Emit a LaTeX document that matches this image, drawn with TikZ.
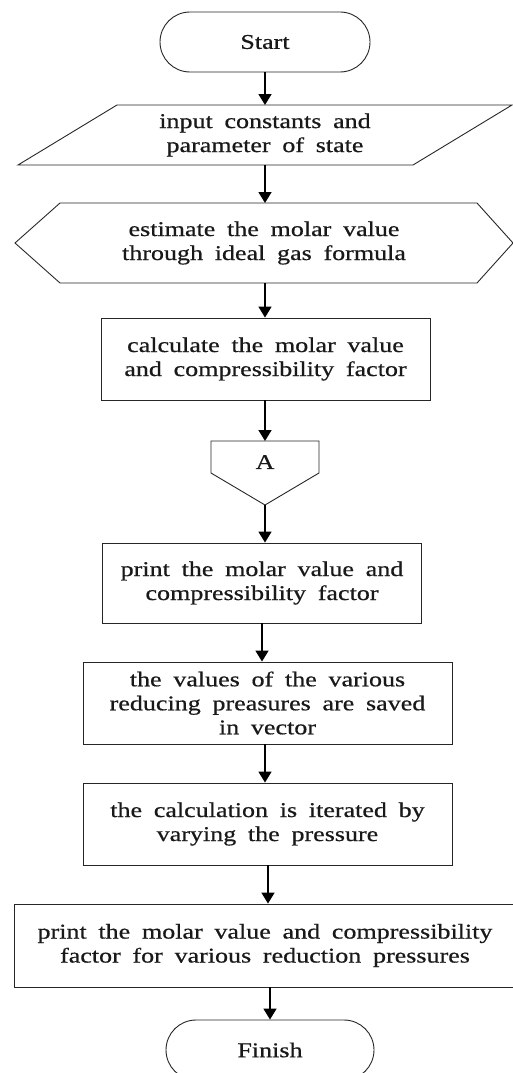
\documentclass[tikz,border=0pt]{standalone}
\usepackage{fontspec}
\setmainfont[FakeStretch=1.24,WordSpace=1.8,FakeBold=0.6]{Liberation Serif}
\usetikzlibrary{arrows.meta}
\begin{document}
\begin{tikzpicture}[x=1pt,y=-1pt,
  outl/.style={draw=black!85,line width=0.9pt},
  txt/.style={font=\fontsize{21}{24}\selectfont,align=center,text=black!90},
  boxn/.style={outl,txt,inner sep=0pt},
  term/.style={outl,txt,rounded corners=30pt,minimum height=60pt,inner sep=0pt},
  arr/.style={-{Triangle[width=13pt,length=11pt]},line width=1.6pt}]
\useasboundingbox (0,0) rectangle (513,1073);
% Start
\node[term,minimum width=210pt] (start) at (265,42) {Start};
% input (parallelogram)
\draw[outl] (117,105)--(512,105)--(413,165)--(18,165)--cycle;
\coordinate (inT) at (265,105); \coordinate (inB) at (265,165);
\node[txt] (input) at (265,135) {input constants and\\parameter of state};
% estimate (hexagon)
\draw[outl] (60,203)--(477,203)--(513,243)--(477,283)--(60,283)--(15,243)--cycle;
\coordinate (esT) at (265,203); \coordinate (esB) at (265,283);
\node[txt] (est) at (264,243) {estimate the molar value\\through ideal gas formula};
% calculate
\node[boxn,minimum width=329pt,minimum height=82pt] (calc) at (265.5,359) {calculate the molar value\\and compressibility factor};
% off-page connector A
\draw[outl] (211,441)--(319,441)--(319,473)--(265,505)--(211,473)--cycle;
\coordinate (aT) at (265,441); \coordinate (aB) at (265,505);
\node[txt] (A) at (265,462) {A};
% print
\node[boxn,minimum width=319pt,minimum height=80pt] (print) at (262,583) {print the molar value and\\compressibility factor};
% values
\node[boxn,minimum width=369pt,minimum height=82pt] (vals) at (267.5,703) {the values of the various\\reducing preasures are saved\\in vector};
% iterate
\node[boxn,minimum width=369pt,minimum height=82pt] (iter) at (267.5,824) {the calculation is iterated by\\varying the pressure};
% final print
\node[boxn,minimum width=502pt,minimum height=83pt] (fin) at (265,945.5) {print the molar value and compressibility\\factor for various reduction pressures};
% Finish
\node[term,minimum width=208pt] (finish) at (270,1050) {Finish};
% connectors
\draw[arr] (start.south) -- (inT);
\draw[arr] (inB) -- (esT);
\draw[arr] (esB) -- (calc.north -| esB);
\draw[arr] (calc.south -| aT) -- (aT);
\draw[arr] (aB) -- (print.north -| aB);
\draw[arr] (print.south) -- (vals.north -| print.south);
\draw[arr] (vals.south -| aT) -- (iter.north -| aT);
\draw[arr] ([xshift=0.5pt]iter.south) -- ([xshift=0.5pt]iter.south |- fin.north);
\draw[arr] (fin.south -| finish.north) -- (finish.north);
\end{tikzpicture}
\end{document}
